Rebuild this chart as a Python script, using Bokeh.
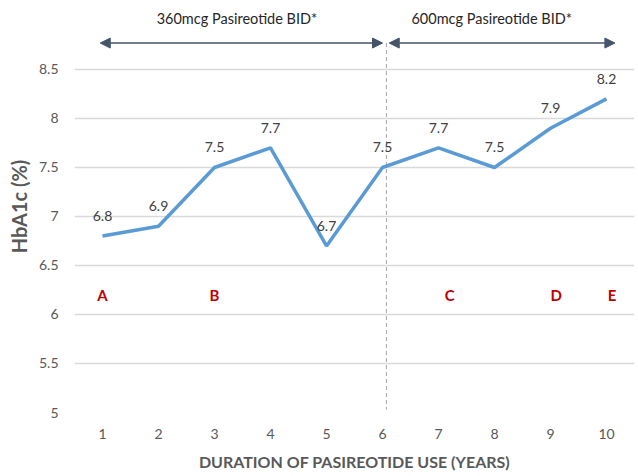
from bokeh.plotting import figure
from bokeh.models import Range1d, FixedTicker, Arrow, NormalHead, ColumnDataSource
from bokeh.core.properties import value
from bokeh.embed import file_html
from bokeh.resources import INLINE

years = [1, 2, 3, 4, 5, 6, 7, 8, 9, 10]
hba1c = [6.8, 6.9, 7.5, 7.7, 6.7, 7.5, 7.7, 7.5, 7.9, 8.2]
y_ticks = [5, 5.5, 6, 6.5, 7, 7.5, 8, 8.5]
y_tick_labels = ["5", "5.5", "6", "6.5", "7", "7.5", "8", "8.5"]
marker_letters = ["A", "B", "C", "D", "E"]
marker_x = [1, 3, 7.2, 9.1, 10.1]
marker_y = [6.2, 6.2, 6.2, 6.2, 6.2]
phase_labels = ["360mcg Pasireotide BID*", "600mcg Pasireotide BID*"]
phase_x = [3.4, 7.95]
phase_y = [9.02, 9.02]
arrow_y = 8.77
phase_switch = 6.07

FONT = "Lato"
GREY = "#595959"

p = figure(width=638, height=476, output_backend="svg", toolbar_location=None,
           x_range=Range1d(0.5, 10.5), y_range=Range1d(5, 9.204),
           min_border_left=74, min_border_right=4, min_border_top=0, min_border_bottom=64)
p.outline_line_color = None
p.background_fill_color = "white"

# axes
p.xaxis.ticker = FixedTicker(ticks=years)
p.xaxis.axis_line_color = None
p.xaxis.major_tick_line_color = None
p.xaxis.minor_tick_line_color = None
p.xaxis.major_label_text_color = GREY
p.xaxis.major_label_text_font = FONT
p.xaxis.major_label_text_font_size = "14px"
p.xaxis.major_label_standoff = 10
p.xaxis.axis_label = "DURATION OF PASIREOTIDE USE (YEARS)"
p.xaxis.axis_label_text_font = FONT
p.xaxis.axis_label_text_font_style = "bold"
p.xaxis.axis_label_text_font_size = "16px"
p.xaxis.axis_label_text_color = GREY
p.xaxis.axis_label_standoff = 10

p.yaxis.ticker = FixedTicker(ticks=y_ticks)
p.yaxis.major_label_overrides = {t: l for t, l in zip(y_ticks, y_tick_labels)}
p.yaxis.axis_line_color = None
p.yaxis.major_tick_line_color = None
p.yaxis.minor_tick_line_color = None
p.yaxis.major_label_text_color = GREY
p.yaxis.major_label_text_font = FONT
p.yaxis.major_label_text_font_size = "14px"
p.yaxis.major_label_standoff = 10
p.yaxis.axis_label = "HbA1c (%)"
p.yaxis.axis_label_text_font = FONT
p.yaxis.axis_label_text_font_style = "bold"
p.yaxis.axis_label_text_font_size = "20px"
p.yaxis.axis_label_text_color = GREY
p.yaxis.axis_label_standoff = 5

p.xgrid.grid_line_color = None
p.ygrid.grid_line_color = "#d9d9d9"
p.ygrid.grid_line_width = 1.5

# phase switch dashed line
p.segment(x0=[phase_switch], y0=[arrow_y], x1=[phase_switch], y1=[5.03],
          line_color="#a6a6a6", line_dash="4 3", line_width=1)

# series
src = ColumnDataSource(dict(x=years, y=hba1c, lab=[str(v) for v in hba1c]))
p.line("x", "y", source=src, line_color="#5b9bd5", line_width=3.5)
p.text("x", "y", text="lab", source=src, text_align="center", text_baseline="middle",
       y_offset=-20, text_font=value(FONT), text_font_size="14px", text_color="#404040")

# letters
p.text(marker_x, marker_y, text=marker_letters, text_align="center", text_baseline="middle",
       text_font=value(FONT), text_font_style="bold", text_font_size="15px", text_color="#c00000")

# phase arrows
arrow_col = "#44546a"
for xs, xe in [(0.96, 6.0), (6.12, 10.15)]:
    p.add_layout(Arrow(x_start=xs, y_start=arrow_y, x_end=xe, y_end=arrow_y,
                       line_color=arrow_col, line_width=1.5,
                       start=NormalHead(size=10, fill_color=arrow_col, line_color=arrow_col),
                       end=NormalHead(size=10, fill_color=arrow_col, line_color=arrow_col)))
p.text(phase_x, phase_y, text=phase_labels, text_align="center", text_baseline="middle",
       text_font=value(FONT), text_font_size="14.5px", text_color="#262626")

open("out.html", "w").write(file_html(p, INLINE))
